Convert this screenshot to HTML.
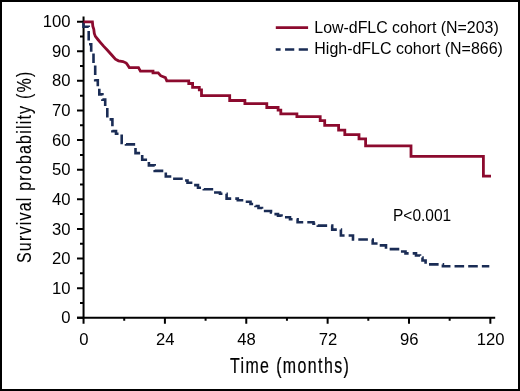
<!DOCTYPE html>
<html><head><meta charset="utf-8"><style>
html,body{margin:0;padding:0;background:#fff;}
body{width:520px;height:391px;overflow:hidden;position:relative;}
#frame{position:absolute;left:0;top:0;width:520px;height:391px;box-sizing:border-box;border:2px solid #000;}
svg{position:absolute;left:0;top:0;will-change:transform;}
text{font-family:"Liberation Sans",sans-serif;fill:#000;}
</style></head><body>
<div id="frame"></div>
<svg width="520" height="391" viewBox="0 0 520 391">
<g stroke="#000" stroke-width="2" fill="none">
<path d="M83.55,16.4V318.75 M77,317.75H495.2"/>
<path d="M77,317.75H83.5 M77,288.14H83.5 M77,258.53H83.5 M77,228.92H83.5 M77,199.31H83.5 M77,169.70H83.5 M77,140.09H83.5 M77,110.48H83.5 M77,80.87H83.5 M77,51.26H83.5 M77,21.65H83.5 M80,302.94H83.5 M80,273.33H83.5 M80,243.73H83.5 M80,214.12H83.5 M80,184.50H83.5 M80,154.90H83.5 M80,125.28H83.5 M80,95.68H83.5 M80,66.07H83.5 M80,36.46H83.5 M83.55,317.75V323.7 M164.91,317.75V323.7 M246.27,317.75V323.7 M327.63,317.75V323.7 M408.99,317.75V323.7 M490.35,317.75V323.7 M124.23,317.75V320.7 M205.59,317.75V320.7 M286.95,317.75V320.7 M368.31,317.75V320.7 M449.67,317.75V320.7"/>
</g>
<g font-size="16"><text transform="translate(70.6,323.35) scale(1.04,1)" text-anchor="end">0</text><text transform="translate(70.6,293.74) scale(1.04,1)" text-anchor="end">10</text><text transform="translate(70.6,264.13) scale(1.04,1)" text-anchor="end">20</text><text transform="translate(70.6,234.52) scale(1.04,1)" text-anchor="end">30</text><text transform="translate(70.6,204.91) scale(1.04,1)" text-anchor="end">40</text><text transform="translate(70.6,175.30) scale(1.04,1)" text-anchor="end">50</text><text transform="translate(70.6,145.69) scale(1.04,1)" text-anchor="end">60</text><text transform="translate(70.6,116.08) scale(1.04,1)" text-anchor="end">70</text><text transform="translate(70.6,86.47) scale(1.04,1)" text-anchor="end">80</text><text transform="translate(70.6,56.86) scale(1.04,1)" text-anchor="end">90</text><text transform="translate(70.6,27.25) scale(1.04,1)" text-anchor="end">100</text><text transform="translate(83.85,345.2) scale(1.04,1)" text-anchor="middle">0</text><text transform="translate(165.21,345.2) scale(1.04,1)" text-anchor="middle">24</text><text transform="translate(246.57,345.2) scale(1.04,1)" text-anchor="middle">48</text><text transform="translate(327.93,345.2) scale(1.04,1)" text-anchor="middle">72</text><text transform="translate(409.29,345.2) scale(1.04,1)" text-anchor="middle">96</text><text transform="translate(490.65,345.2) scale(1.04,1)" text-anchor="middle">120</text></g>
<path id="bl" d="M83.5,21.8 V26.8 H88.7 V44.3 H91.2 V52 H93.5 V64 H95.2 V80.2 H97.8 V87 H99.3 V94.4 H102.4 V99.6 H105.2 V106.5 H107.3 V119.4 H112.4 V131.1 H116 V133.7 H121.7 V143 H126 V144.4 H135.5 V153.1 H142.2 V159.8 H148.9 V165.4 H154.7 V170.9 H165.8 V176.5 H170 V178.8 H185 V180.5 H187.5 V182.8 H193.5 V185.1 H198 V187.8 H203.8 V189.3 H214 V192.5 H220 V193.7 H226.6 V198.6 H237.8 V200.2 H245 V201.8 H250.5 V204 H255.5 V206 H258.5 V208 H262 V211 H271 V212.5 H274.4 V214.1 H278 V215.6 H281.5 V217.2 H290 V219.2 H297.6 V222.2 H313.5 V223.8 H317.8 V225.6 H332.2 V229.6 H340.9 V235.5 H353 V239.5 H372.7 V243.5 H379 V245.4 H386 V249.1 H400 V251.5 H405.5 V253.4 H416 V255.5 H420 V257.5 H422.5 V260.5 H425.6 V264.4 H442.9 V266.2 H489.3" fill="none" stroke="#1a2c55" stroke-width="2.6" stroke-dasharray="9.6 4.06" stroke-dashoffset="12.93"/>
<path d="M83.5,21.8 H92.4 L92.8,26.2 L93.8,29.3 L94.3,33.4 L95.4,36.4 L97.9,39.5 L100.5,42.6 L103.8,46.4 L107.7,50.5 L111.5,54.8 L115.4,59.2 L118.5,60.8 L123,61.5 L126.2,63 L127,64.1 L129.3,67.6 H138.5 L140.4,71.1 H153 V72.9 H158.2 L160.6,75.7 L165.4,77.6 L166.8,80.8 H188.75 V83.5 H192.6 V87.3 H199.3 V89.8 H201.5 V95.6 H229.7 V100.5 H244.9 V103.7 H266.8 V107.5 H278.1 V110.2 H280.8 V113.8 H296.9 V116.7 H320.2 V120.6 H324.7 V125.4 H338.6 V130.2 H344.8 V134.6 H359 V138.8 H365.6 V145.9 H411 V156.3 H483.4 V176.2 H491" fill="none" stroke="#8c0a2e" stroke-width="2.8" stroke-linejoin="miter"/>
<text transform="translate(393,221.3) scale(0.97,1)" font-size="16">P&lt;0.001</text>
<path d="M275.8,27.7H308.1" stroke="#8c0a2e" stroke-width="2.8"/>
<path d="M275.8,49.4H308" stroke="#1a2c55" stroke-width="2.5" stroke-dasharray="9.2 4.46" stroke-dashoffset="4.4"/>
<text x="314.3" y="32.9" font-size="16" textLength="184.4" lengthAdjust="spacingAndGlyphs">Low-dFLC cohort (N=203)</text>
<text x="314.3" y="54.1" font-size="16" textLength="188.6" lengthAdjust="spacingAndGlyphs">High-dFLC cohort (N=866)</text>
<text transform="translate(229.9,372.7) scale(0.725,1)" font-size="22" style="letter-spacing:1.93px" stroke="#000" stroke-width="0.25">Time (months)</text>
<text transform="translate(30.8,263) rotate(-90) scale(0.78,1)" font-size="20.5" style="letter-spacing:1.55px" stroke="#000" stroke-width="0.1">Survival probability (%)</text>
</svg>
</body></html>
